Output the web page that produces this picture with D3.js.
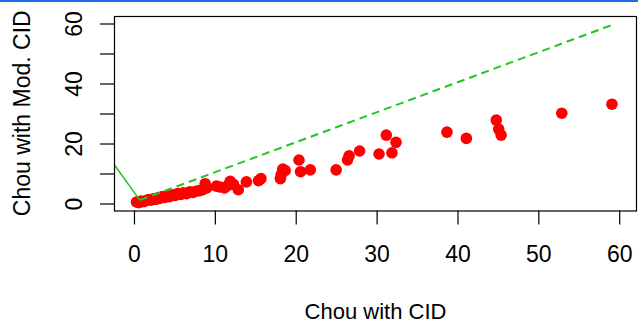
<!DOCTYPE html>
<html>
<head>
<meta charset="utf-8">
<script src="https://cdn.jsdelivr.net/npm/d3@7"></script>
<style>
  html, body { margin: 0; padding: 0; background: #fff; }
  svg { display: block; }
  text { font-family: "Liberation Sans", Arial, Helvetica, sans-serif; fill: #000; }
</style>
</head>
<body>
<div id="chart"></div>
<script>
// Chou with CID (x) vs Chou with Mod. CID (y)
const chouCID = [0.3, 0.6, 0.9, 1.2, 1.5, 1.8, 2.1, 2.4, 2.7, 3.0, 3.2, 3.5, 3.8, 4.1, 4.4,
  4.8, 5.1, 5.4, 5.8, 6.1, 6.5, 6.9, 7.3, 7.7, 8.1, 8.5, 8.8, 9.0, 10.2, 10.6, 11.2, 11.6,
  11.9, 12.3, 12.9, 13.9, 15.4, 15.7, 18.1, 18.2, 18.4, 18.7, 20.4, 20.6, 21.8, 25.0,
  26.4, 26.6, 27.9, 30.3, 31.2, 31.9, 32.4, 38.7, 41.1, 44.8, 45.1, 45.4, 52.9, 59.1];
const chouModCID = [0.5, 0.3, 0.8, 0.6, 1.0, 1.3, 1.1, 1.6, 1.4, 2.0, 1.7, 2.3, 2.0, 2.6, 2.3,
  2.9, 2.7, 3.3, 3.0, 3.6, 3.3, 3.9, 3.7, 4.1, 4.3, 4.6, 6.6, 5.2, 5.8, 5.5, 5.2, 6.0,
  7.4, 6.4, 4.6, 7.2, 7.6, 8.3, 8.3, 9.6, 11.5, 11.0, 14.5, 10.6, 11.2, 11.2,
  14.5, 15.9, 17.5, 16.5, 22.8, 16.9, 20.4, 23.8, 21.7, 27.8, 24.8, 22.8, 30.1, 33.1];

// green reference lines
const diagLine = [[0.75, 1.15], [59.3, 59.7]];
const solidLine = [[-5, 22.5], [0.7, 1.2]];

const xTicks = [0, 10, 20, 30, 40, 50, 60];
const yTicks = [0, 10, 20, 30, 40, 50, 60];
const yLabels = [0, 20, 40, 60];

const width = 638, height = 326;
const box = {left: 114, right: 637, top: 16, bottom: 210.5};

const svg = d3.select('#chart')
  .append('svg')
    .attr('width', width)
    .attr('height', height);

// thin blue strip along the top of the picture
svg.append('rect')
  .attr('x', 0).attr('y', 0)
  .attr('width', width).attr('height', 2)
  .attr('fill', '#1a6fe6');

const x = d3.scaleLinear()
  .domain([-2.47, 62.2])
  .range([box.left, box.right]);

const y = d3.scaleLinear()
  .domain([-2.33, 62.5])
  .range([box.bottom, box.top]);

svg.append('clipPath')
    .attr('id', 'plotClip')
  .append('rect')
    .attr('x', box.left).attr('y', box.top)
    .attr('width', box.right - box.left)
    .attr('height', box.bottom - box.top);

// points
svg.append('g')
  .selectAll('circle')
  .data(chouCID.map((d, i) => ({x: d, y: chouModCID[i]})))
  .enter()
  .append('circle')
    .attr('cx', d => x(d.x))
    .attr('cy', d => y(d.y))
    .attr('r', 5.8)
    .attr('fill', '#ff0000');

const line = d3.line().x(d => x(d[0])).y(d => y(d[1]));

svg.append('path')
  .attr('d', line(diagLine))
  .attr('fill', 'none')
  .attr('stroke', '#1ec81e')
  .attr('stroke-width', 2)
  .attr('stroke-dasharray', '8,5');

svg.append('path')
  .attr('d', line(solidLine))
  .attr('clip-path', 'url(#plotClip)')
  .attr('fill', 'none')
  .attr('stroke', '#1ec81e')
  .attr('stroke-width', 1.5);

// box
svg.append('rect')
  .attr('x', box.left + 0.5).attr('y', box.top + 0.5)
  .attr('width', box.right - box.left - 1)
  .attr('height', box.bottom - box.top)
  .attr('fill', 'none')
  .attr('stroke', '#000')
  .attr('stroke-width', 1.2);

// X axis
const xAxis = svg.append('g')
  .attr('transform', 'translate(0,' + box.bottom + ')')
  .call(d3.axisBottom(x).tickValues(xTicks).tickSize(14).tickFormat(d3.format('d')));
xAxis.select('.domain').remove();
xAxis.selectAll('line').attr('stroke', '#000').attr('stroke-width', 1.2);
xAxis.selectAll('text')
  .attr('y', 51.5)
  .attr('dy', null)
  .style('font-size', '23px');

// Y axis
const yAxis = svg.append('g')
  .attr('transform', 'translate(' + box.left + ',0)')
  .call(d3.axisLeft(y).tickValues(yTicks).tickSize(14)
    .tickFormat(d => yLabels.includes(d) ? d : ''));
yAxis.select('.domain').remove();
yAxis.selectAll('line').attr('stroke', '#000').attr('stroke-width', 1.2);
yAxis.selectAll('text')
  .attr('x', null)
  .attr('dy', null)
  .attr('text-anchor', 'middle')
  .attr('transform', 'translate(-32.5,0) rotate(-90)')
  .style('font-size', '23px');

// axis titles
svg.append('text')
  .attr('x', (box.left + box.right) / 2)
  .attr('y', 319)
  .attr('text-anchor', 'middle')
  .style('font-size', '22px')
  .text('Chou with CID');

svg.append('text')
  .attr('transform', 'translate(29.5,' + (box.top + box.bottom) / 2 + ') rotate(-90)')
  .attr('text-anchor', 'middle')
  .style('font-size', '23px')
  .text('Chou with Mod. CID');
</script>
</body>
</html>
